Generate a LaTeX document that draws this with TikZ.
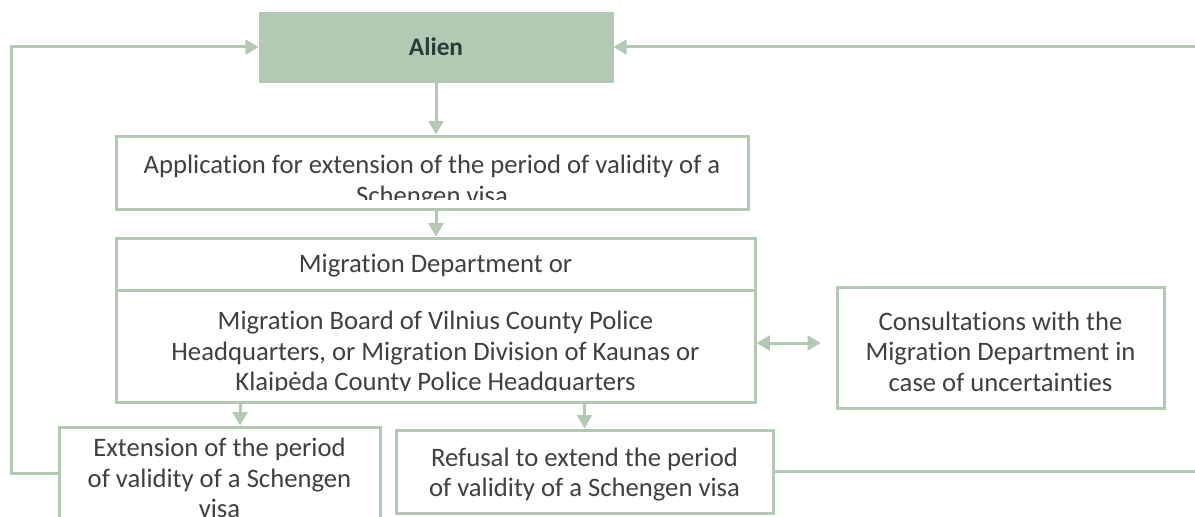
\documentclass[tikz,border=0pt]{standalone}
\usepackage{fontspec}
\setmainfont{Carlito}[Ligatures=NoCommon]
\usetikzlibrary{arrows.meta,calc}
\definecolor{sage}{RGB}{178,202,180}
\definecolor{txtgray}{RGB}{64,64,64}
\definecolor{aliendark}{RGB}{40,60,56}
\begin{document}
\begin{tikzpicture}[x=0.75pt,y=-0.75pt,
  box/.style={draw=sage,line width=2.25pt,fill=white,inner sep=0pt},
  txt/.style={inner sep=0pt,align=center,text=txtgray,font=\fontsize{20}{22.9}\selectfont},
  arr/.style={draw=sage,line width=2.25pt,-{Triangle[length=10pt,width=11pt]}},
  twoarr/.style={draw=sage,line width=2.25pt,{Triangle[length=10pt,width=11pt]}-{Triangle[length=10pt,width=11pt]}},
  plain/.style={draw=sage,line width=2.25pt}]
\clip (0,0) rectangle (1195,517);
%%% the boxes
\node[fill=sage,draw=sage,minimum width=265.5pt,minimum height=52.5pt,
  font=\fontsize{19}{22}\selectfont\bfseries,text=aliendark] (alien) at (436,47) {Alien};
\node[box,minimum width=474pt,minimum height=54.75pt] (app) at (432,172.5) {};
\node[box,minimum width=479.25pt,minimum height=39pt] (migtop) at (435.5,264) {};
\node[box,minimum width=479.25pt,minimum height=84pt] (migbot) at (435.5,346) {};
\node[box,minimum width=245.25pt,minimum height=90.75pt] (consult) at (1000.5,347.5) {};
\node[box,minimum width=240.75pt,minimum height=69pt] (ext) at (219.5,473) {};
\node[box,minimum width=282.75pt,minimum height=62.25pt] (refuse) at (584.5,471.5) {};
%%% the texts
\node[txt] (migtoptext) at ([yshift=-1.5pt]migtop.center) {Migration Department or};
\node[txt] (consulttext) at ([yshift=-3pt]consult.center)
  {Consultations with the\\ Migration Department in\\ case of uncertainties};
\node[txt] (exttext) at ([yshift=-3.75pt]ext.center)
  {Extension of the period\\ of validity of a Schengen\\ visa};
\node[txt] (refusetext) at ([yshift=-2.25pt]refuse.center)
  {Refusal to extend the period\\ of validity of a Schengen visa};
% text cut off above the box edge
\begin{scope}
\clip (app.north west) rectangle ([yshift=7.9pt]app.south east);
\node[txt] (apptext) at (432,182)
  {Application for extension of the period of validity of a\\ Schengen visa};
\end{scope}
\begin{scope}
\clip (migbot.north west) rectangle ([yshift=10pt]migbot.south east);
\node[txt] (migtext) at (435.5,353)
  {Migration Board of Vilnius County Police\\ Headquarters, or Migration Division of Kaunas or\\ Klaipėda County Police Headquarters};
\end{scope}
%%% loop points
\coordinate (lcorner) at (11,47);
\coordinate (rtop) at (1195,47);
\coordinate (rbot) at (1195,471.5);
%%% arrows
\draw[arr] (alien.south) -- (alien.south |- app.north);
\draw[arr] (alien.south |- app.south) -- (alien.south |- migtop.north);
\draw[arr] ([xshift=15.4pt]ext.north |- migbot.south) -- ([xshift=15.4pt]ext.north);
\draw[arr] (refuse.north |- migbot.south) -- (refuse.north);
\draw[twoarr] ([yshift=2.25pt]migbot.east) -- ([yshift=2.25pt,xshift=-11pt]migbot.east -| consult.west);
\draw[arr] (ext.west) -| (lcorner) -- (alien.west);
\draw[arr] (rtop) -- (alien.east);
\draw[plain] (refuse.east) -- (rbot);
\end{tikzpicture}
\end{document}
